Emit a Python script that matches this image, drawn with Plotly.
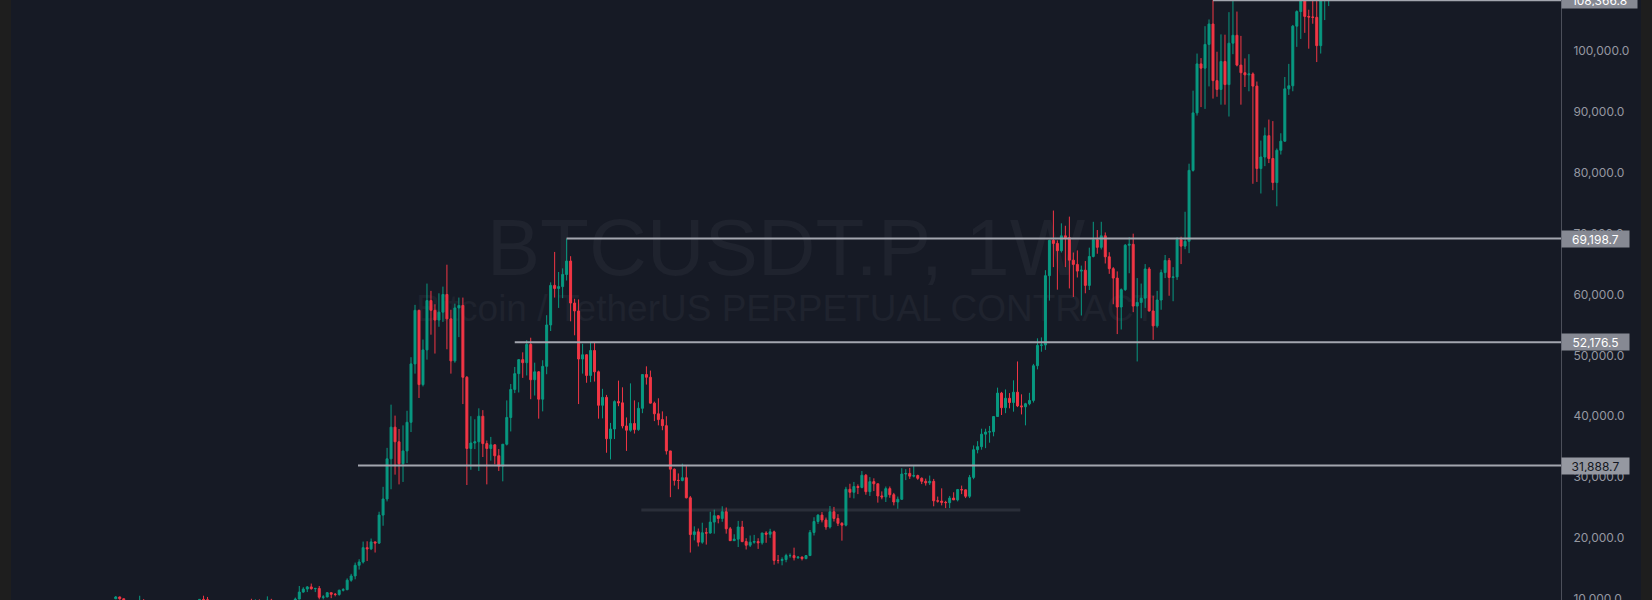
import pandas as pd
import plotly.graph_objects as go

# ---------------- data (weekly BTCUSDT perpetual, values in thousands USDT) ----------------
first_week = "2019-09-09"

open_k = [
    # 2019
    10.0, 10.3, 10.0, 8.05, 8.2, 8.3, 8.2, 9.55, 9.2, 8.8, 8.5, 7.3, 7.45, 7.4, 7.1, 7.15, 7.35,
    # 2020
    7.75, 8.2, 8.9, 8.6, 9.3, 9.9, 9.85, 9.65, 8.55, 8.0, 5.35, 5.8, 6.25, 6.8, 6.9, 6.85, 7.7, 8.9, 8.7, 9.7,
    8.9, 9.45, 9.75, 9.35, 9.3, 9.0, 9.1, 9.25, 9.2, 9.95, 11.1, 11.6, 11.95, 11.65, 11.7, 10.25, 10.3, 11.0,
    10.75, 10.7, 11.4, 11.5, 13.05, 13.75, 15.5, 16.05, 18.4, 18.2, 19.35, 19.15, 23.75, 26.4,
    # 2021
    33.0, 38.2, 35.8, 32.2, 34.3, 39.0, 48.6, 57.4, 45.2, 50.9, 59.0, 57.4, 55.8, 57.1, 60.0, 56.0, 49.1, 57.8,
    58.2, 46.4, 34.7, 35.6, 35.8, 40.0, 35.5, 34.7, 35.3, 33.5, 31.8, 35.4, 39.8, 44.4, 47.0, 49.3, 48.8, 51.8,
    46.0, 47.3, 42.8, 48.2, 55.0, 61.5, 61.0, 61.3, 63.3, 65.5, 58.6, 57.3, 49.4, 50.1, 46.7, 50.8,
    # 2022
    47.3, 41.8, 43.1, 36.3, 37.9, 42.4, 42.2, 38.4, 37.7, 38.8, 37.8, 41.3, 46.85, 46.4, 42.15, 40.4, 39.45,
    38.45, 34.3, 31.3, 29.45, 29.45, 29.9, 26.6, 20.55, 21.0, 19.3, 20.85, 20.8, 22.6, 23.65, 23.2, 24.3, 21.5,
    19.55, 19.8, 21.8, 19.4, 18.8, 19.3, 19.4, 19.2, 20.8, 20.6, 21.0, 16.3, 16.3, 16.45, 17.1, 17.1, 16.75, 16.85,
    # 2023
    16.6, 17.1, 20.9, 22.7, 23.75, 22.95, 21.8, 24.3, 23.2, 22.4, 22.1, 28.0, 27.5, 28.45, 28.3, 30.3, 27.6,
    29.25, 28.9, 26.9, 26.75, 28.1, 27.1, 25.9, 26.35, 30.5, 30.6, 30.15, 30.25, 29.8, 29.3, 29.05, 29.3, 26.1,
    26.05, 25.85, 25.8, 26.55, 26.25, 27.95, 27.9, 26.85, 29.95, 34.5, 35.0, 37.05, 37.4, 37.45, 39.95, 43.8, 41.4, 42.95,
    # 2024
    42.25, 43.95, 41.7, 41.55, 42.05, 42.6, 48.3, 51.65, 51.7, 63.1, 68.9, 68.4, 67.2, 69.65, 69.35, 65.65, 64.95,
    63.85, 64.0, 61.5, 66.25, 69.0, 67.75, 69.65, 66.2, 64.25, 62.7, 57.95, 60.8, 68.1, 68.25, 58.1, 58.7, 59.4,
    64.2, 57.3, 54.85, 59.1, 63.6, 65.6, 62.8, 62.9, 69.0, 67.95, 68.75, 80.4, 89.85, 97.9, 97.2, 101.1, 104.45, 95.15, 93.7,
    # 2025
    98.3, 94.5, 101.3, 102.6, 97.7, 96.45, 96.1, 96.25, 94.25, 80.7, 82.6, 86.1, 82.35, 78.4, 83.7, 85.2, 93.8,
    94.3, 104.1, 106.5, 109.0, 105.7, 105.6, 105.55, 100.9, 108.35, 109.2,
]

high_k = [
    # 2019
    10.45, 10.35, 10.05, 8.5, 8.85, 8.4, 10.5, 9.95, 9.5, 9.15, 8.5, 7.9, 7.75, 7.65, 7.5, 7.7, 7.8,
    # 2020
    8.45, 9.2, 8.95, 9.6, 9.95, 10.5, 10.3, 9.7, 9.2, 8.2, 6.9, 6.95, 7.2, 7.45, 7.25, 7.75, 9.5, 10.0, 9.9, 9.9,
    9.75, 10.4, 9.99, 9.6, 9.8, 9.3, 9.45, 9.3, 10.2, 12.1, 11.9, 12.1, 12.5, 11.8, 12.1, 10.6, 11.1, 11.0,
    10.95, 11.5, 11.75, 13.35, 14.1, 15.95, 16.5, 19.4, 19.45, 19.9, 19.4, 24.3, 28.4, 34.8,
    # 2021
    41.9, 40.1, 37.9, 38.5, 40.9, 49.7, 58.3, 57.5, 52.6, 61.8, 60.6, 58.4, 60.2, 61.3, 64.9, 57.5, 58.5, 59.5,
    59.5, 46.6, 40.0, 39.5, 41.3, 41.0, 36.0, 36.6, 35.4, 34.6, 35.4, 42.6, 45.3, 48.1, 49.4, 50.5, 52.5, 52.9,
    48.8, 47.4, 49.2, 56.6, 62.0, 67.0, 63.7, 64.3, 69.1987, 66.3, 59.3, 59.2, 51.9, 50.2, 52.1, 52.1,
    # 2022
    47.5, 44.5, 43.5, 38.9, 42.6, 45.85, 44.75, 39.8, 45.4, 42.6, 42.3, 46.9, 48.2, 47.5, 42.4, 42.95, 40.8,
    40.0, 34.3, 31.4, 30.6, 32.2, 31.8, 26.9, 21.9, 21.55, 22.5, 21.65, 24.3, 24.65, 23.7, 25.2, 25.0, 21.8,
    20.6, 22.8, 22.8, 19.95, 20.4, 20.5, 19.95, 20.85, 21.1, 21.5, 21.2, 17.2, 16.8, 17.4, 17.45, 18.4, 17.0, 16.95,
    # 2023
    17.2, 21.3, 23.4, 23.9, 24.25, 23.35, 25.25, 25.1, 23.9, 22.6, 28.4, 28.9, 29.2, 28.8, 31.0, 30.5, 30.0,
    29.8, 28.9, 27.65, 28.45, 28.45, 27.4, 26.8, 31.45, 31.3, 31.5, 31.8, 30.4, 29.95, 29.75, 30.25, 29.7, 26.8,
    28.15, 26.1, 26.9, 27.5, 28.05, 28.6, 27.95, 30.35, 35.2, 35.9, 37.95, 37.95, 38.4, 40.0, 44.7, 44.0, 44.4, 43.8,
    # 2024
    45.9, 49.0, 43.6, 42.2, 43.85, 48.6, 52.8, 52.95, 64.0, 69.0, 73.8, 68.9, 71.7, 71.3, 72.8, 66.9, 67.25,
    64.75, 65.5, 67.7, 71.95, 70.6, 71.95, 70.2, 66.95, 64.5, 63.8, 61.0, 68.3, 69.4, 70.0, 62.7, 61.8, 65.0,
    64.5, 59.8, 60.6, 64.1, 66.5, 66.0, 64.5, 69.4, 69.5, 73.6, 81.5, 93.5, 99.6, 98.85, 104.1, 105.2, 108.3668, 99.9, 102.75,
    # 2025
    102.7, 106.4, 109.6, 106.5, 102.5, 98.8, 99.5, 96.5, 95.0, 85.3, 87.45, 88.75, 88.5, 84.0, 86.5, 95.75, 97.9,
    104.3, 106.7, 111.95, 110.4, 106.8, 110.5, 108.9, 108.5, 110.5, 119.5,
]

low_k = [
    # 2019
    9.95, 9.85, 7.75, 7.75, 7.85, 7.9, 7.3, 8.9, 8.7, 8.35, 6.5, 6.8, 7.25, 6.9, 6.45, 7.05, 6.85,
    # 2020
    7.7, 8.1, 8.25, 8.55, 9.1, 9.7, 9.3, 8.45, 8.0, 3.6, 4.5, 5.7, 6.15, 6.75, 6.5, 6.8, 7.65, 8.1, 8.2, 8.8,
    8.6, 9.3, 9.15, 9.2, 8.8, 8.95, 9.05, 9.05, 9.15, 9.9, 11.0, 11.1, 11.5, 11.1, 9.9, 9.9, 10.25, 10.1,
    10.4, 10.5, 11.2, 11.4, 12.8, 13.2, 14.8, 15.8, 16.2, 18.0, 17.6, 19.0, 22.0, 26.0,
    # 2021
    28.0, 30.4, 28.8, 29.2, 32.3, 37.4, 47.0, 43.0, 44.9, 49.3, 53.4, 50.3, 54.7, 55.5, 51.0, 47.0, 48.8, 53.0,
    42.0, 28.7, 31.2, 34.6, 31.0, 33.3, 28.8, 32.7, 32.1, 31.0, 29.3, 35.2, 37.5, 43.8, 43.9, 46.3, 46.7, 42.8,
    43.4, 39.6, 40.8, 46.9, 54.0, 59.5, 57.8, 59.4, 62.3, 55.6, 53.3, 42.0, 47.0, 45.5, 45.6, 45.7,
    # 2022
    39.6, 39.65, 34.0, 32.9, 36.25, 41.65, 38.0, 34.3, 37.45, 37.15, 37.6, 40.5, 45.2, 42.1, 39.2, 38.5, 37.7,
    33.7, 26.7, 28.6, 28.0, 29.3, 26.5, 17.6, 19.6, 18.6, 19.05, 18.9, 20.7, 20.7, 22.4, 22.65, 20.7, 19.5,
    19.5, 18.5, 19.3, 18.1, 18.5, 19.05, 18.2, 18.9, 19.2, 20.0, 15.6, 15.8, 15.5, 16.0, 16.75, 16.3, 16.55, 16.3,
    # 2023
    16.5, 17.1, 20.4, 22.3, 22.55, 21.35, 21.55, 22.7, 21.95, 19.55, 21.9, 26.6, 26.5, 27.2, 28.15, 27.1, 26.9,
    27.7, 25.8, 26.35, 25.9, 26.6, 25.35, 24.8, 26.25, 29.5, 29.7, 29.95, 29.55, 28.85, 28.6, 28.7, 25.2, 25.8,
    25.35, 24.9, 24.9, 26.35, 26.0, 27.2, 26.55, 26.55, 29.65, 33.9, 34.5, 34.75, 35.65, 36.7, 39.95, 40.2, 40.5, 41.3,
    # 2024
    40.75, 41.5, 40.3, 38.5, 41.8, 42.25, 47.7, 50.6, 50.9, 59.0, 64.5, 60.8, 66.9, 64.5, 61.0, 59.6, 62.8,
    56.55, 60.2, 60.75, 66.1, 66.7, 67.4, 65.1, 63.4, 58.4, 53.5, 54.25, 60.6, 63.5, 57.1, 49.0, 56.1, 57.8,
    57.2, 52.55, 54.55, 57.5, 62.7, 59.8, 58.9, 62.4, 65.0, 67.45, 66.8, 80.2, 89.4, 90.8, 90.5, 94.2, 92.2, 92.5, 91.2,
    # 2025
    91.2, 89.25, 99.5, 97.5, 91.2, 94.1, 93.4, 78.2, 78.5, 76.6, 81.1, 81.6, 77.15, 74.5, 83.0, 85.1, 92.8,
    93.4, 100.7, 102.0, 103.0, 100.4, 104.5, 98.2, 99.6, 105.1, 107.4,
]

close_k = [
    # 2019
    10.3, 10.0, 8.05, 8.2, 8.3, 8.2, 9.55, 9.2, 8.8, 8.5, 7.3, 7.45, 7.4, 7.1, 7.15, 7.35, 7.75,
    # 2020
    8.2, 8.9, 8.6, 9.3, 9.9, 9.85, 9.65, 8.55, 8.0, 5.35, 5.8, 6.25, 6.8, 6.9, 6.85, 7.7, 8.9, 8.7, 9.7, 8.9,
    9.45, 9.75, 9.35, 9.3, 9.0, 9.1, 9.25, 9.2, 9.95, 11.1, 11.6, 11.95, 11.65, 11.7, 10.25, 10.3, 11.0, 10.75,
    10.7, 11.4, 11.5, 13.05, 13.75, 15.5, 16.05, 18.4, 18.2, 19.35, 19.15, 23.75, 26.4, 33.0,
    # 2021
    38.2, 35.8, 32.2, 34.3, 39.0, 48.6, 57.4, 45.2, 50.9, 59.0, 57.4, 55.8, 57.1, 60.0, 56.0, 49.1, 57.8, 58.2,
    46.4, 34.7, 35.6, 35.8, 40.0, 35.5, 34.7, 35.3, 33.5, 31.8, 35.4, 39.8, 44.4, 47.0, 49.3, 48.8, 51.8, 46.0,
    47.3, 42.8, 48.2, 55.0, 61.5, 61.0, 61.3, 63.3, 65.5, 58.6, 57.3, 49.4, 50.1, 46.7, 50.8, 47.3,
    # 2022
    41.8, 43.1, 36.3, 37.9, 42.4, 42.2, 38.4, 37.7, 38.8, 37.8, 41.3, 46.85, 46.4, 42.15, 40.4, 39.45, 38.45,
    34.3, 31.3, 29.45, 29.45, 29.9, 26.6, 20.55, 21.0, 19.3, 20.85, 20.8, 22.6, 23.65, 23.2, 24.3, 21.5, 19.55,
    19.8, 21.8, 19.4, 18.8, 19.3, 19.4, 19.2, 20.8, 20.6, 21.0, 16.3, 16.3, 16.45, 17.1, 17.1, 16.75, 16.85, 16.6,
    # 2023
    17.1, 20.9, 22.7, 23.75, 22.95, 21.8, 24.3, 23.2, 22.4, 22.1, 28.0, 27.5, 28.45, 28.3, 30.3, 27.6, 29.25,
    28.9, 26.9, 26.75, 28.1, 27.1, 25.9, 26.35, 30.5, 30.6, 30.15, 30.25, 29.8, 29.3, 29.05, 29.3, 26.1, 26.05,
    25.85, 25.8, 26.55, 26.25, 27.95, 27.9, 26.85, 29.95, 34.5, 35.0, 37.05, 37.4, 37.45, 39.95, 43.8, 41.4, 42.95, 42.25,
    # 2024
    43.95, 41.7, 41.55, 42.05, 42.6, 48.3, 51.65, 51.7, 63.1, 68.9, 68.4, 67.2, 69.65, 69.35, 65.65, 64.95, 63.85,
    64.0, 61.5, 66.25, 69.0, 67.75, 69.65, 66.2, 64.25, 62.7, 57.95, 60.8, 68.1, 68.25, 58.1, 58.7, 59.4, 64.2,
    57.3, 54.85, 59.1, 63.6, 65.6, 62.8, 62.9, 69.0, 67.95, 68.75, 80.4, 89.85, 97.9, 97.2, 101.1, 104.45, 95.15, 93.7, 98.3,
    # 2025
    94.5, 101.3, 102.6, 97.7, 96.45, 96.1, 96.25, 94.25, 80.7, 82.6, 86.1, 82.35, 78.4, 83.7, 85.2, 93.8, 94.3,
    104.1, 106.5, 109.0, 105.7, 105.6, 105.55, 100.9, 108.35, 109.2, 119.1,
]

tick_values = [10000, 20000, 30000, 40000, 50000, 60000, 70000, 80000, 90000, 100000]

level_values = [31888.7, 52176.5, 69198.7, 108366.8]
level_starts = ["2020-11-07", "2021-08-09", "2021-11-08", "2024-12-16"]

zone_value = 24600
zone_start, zone_end = "2022-03-19", "2024-01-13"

watermark_title = "BTCUSDT.P, 1W"
watermark_subtitle = "Bitcoin / TetherUS PERPETUAL CONTRACT"

# ---------------- build ----------------
n = len(close_k)
assert len(open_k) == len(high_k) == len(low_k) == n
weeks = pd.date_range(first_week, periods=n, freq="7D")
opens = [v * 1000 for v in open_k]
highs = [v * 1000 for v in high_k]
lows = [v * 1000 for v in low_k]
closes = [v * 1000 for v in close_k]

W, H = 1652, 600
PLOT_L, PLOT_R = 11, 1561
PLOT_W = PLOT_R - PLOT_L
anchor = pd.Timestamp("2024-12-16")
anchor_px = 1213
days_per_px = 7 / 3.99
x_left = anchor - pd.Timedelta(days=(anchor_px - PLOT_L) * days_per_px)
x_right = anchor + pd.Timedelta(days=(PLOT_R - anchor_px) * days_per_px)

BG = "#161a25"
FRAME = "#1e1e1e"
UP = "#089981"
DOWN = "#f23645"
TEXT = "#9598a1"

fig = go.Figure()
fig.add_trace(go.Candlestick(
    x=weeks, open=opens, high=highs, low=lows, close=closes,
    increasing=dict(line=dict(color=UP, width=1), fillcolor=UP),
    decreasing=dict(line=dict(color=DOWN, width=1), fillcolor=DOWN),
    whiskerwidth=0, hoverinfo="skip", showlegend=False,
))

shapes = []
# outer frame strips
shapes.append(dict(type="rect", xref="paper", yref="paper", x0=-PLOT_L / PLOT_W, x1=0, y0=0, y1=1,
                   fillcolor=FRAME, line=dict(width=0), layer="above"))
shapes.append(dict(type="rect", xref="paper", yref="paper", x0=(1641 - PLOT_L) / PLOT_W,
                   x1=(W - PLOT_L) / PLOT_W, y0=0, y1=1, fillcolor=FRAME, line=dict(width=0), layer="above"))
# watermark (below candles)
for txt, size, cy, half in [(watermark_title, 80, 239.5, 50), (watermark_subtitle, 37, 304, 25)]:
    shapes.append(dict(
        type="rect", xref="paper", yref="paper", x0=0, x1=1,
        y0=1 - (cy + half) / H, y1=1 - (cy - half) / H,
        line=dict(width=0), fillcolor="rgba(0,0,0,0)", layer="below",
        label=dict(text=txt, textposition="middle center",
                   font=dict(family="Liberation Sans, Arial", size=size, color="#1f232e")),
    ))
# dark range line
shapes.append(dict(type="line", xref="x", yref="y", x0=zone_start, x1=zone_end, y0=zone_value, y1=zone_value,
                   line=dict(color="#2a2e39", width=3), layer="below"))
# level lines
for v, s in zip(level_values, level_starts):
    shapes.append(dict(type="line", xref="x", yref="y", x0=s, x1=x_right, y0=v, y1=v,
                       line=dict(color="#a3a6af", width=2), layer="above"))

annotations = []
for v in level_values:
    label = f"{v:,.1f}"
    dark = v < 40000
    annotations.append(dict(
        x=1, xref="paper", xanchor="left", y=v, yref="y", yanchor="middle",
        text=label, showarrow=False, align="center",
        width=63 if len(label) <= 8 else 71, height=12, borderpad=2,
        bgcolor="#9598a1" if dark else "#868993",
        font=dict(family="Inter", size=12, color="#131722" if dark else "#ffffff"),
    ))

fig.update_layout(
    width=W, height=H,
    margin=dict(l=PLOT_L, r=W - PLOT_R, t=0, b=0, autoexpand=False),
    paper_bgcolor=BG, plot_bgcolor=BG,
    shapes=shapes, annotations=annotations,
    showlegend=False,
    xaxis=dict(visible=False, range=[x_left, x_right], rangeslider=dict(visible=False),
               showgrid=False, zeroline=False, automargin=False),
    yaxis=dict(side="right", range=[9800, 108400], tickvals=tick_values,
               ticktext=[f"{t:,.1f}" for t in tick_values],
               showgrid=False, zeroline=False, showline=True, linecolor="#4c4f5a", linewidth=1,
               ticks="", ticklabelstandoff=9, ticklabeloverflow="allow", automargin=False,
               tickfont=dict(family="Inter", size=12, color=TEXT)),
)

fig.write_html("out.html", config={"displayModeBar": False},
               post_script="document.body.style.margin='0';document.body.style.overflow='hidden';")
